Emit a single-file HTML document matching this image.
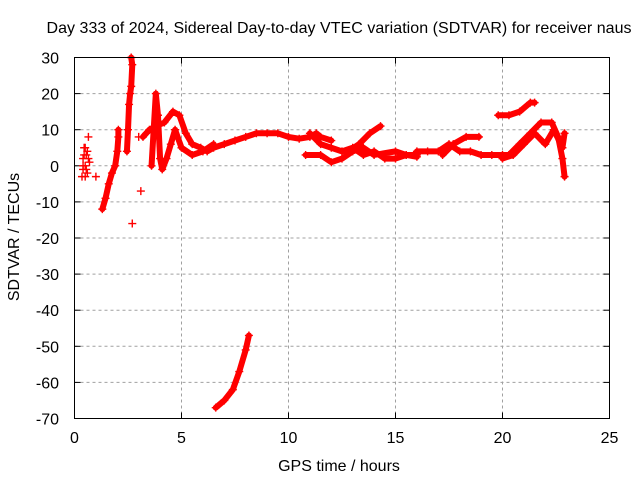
<!DOCTYPE html>
<html><head><meta charset="utf-8"><style>
body{margin:0;background:#fff}
svg{display:block;font-family:"Liberation Sans",sans-serif;font-size:16px}
</style></head><body>
<svg id="c" width="640" height="480">
<text x="339" y="33" text-anchor="middle" textLength="585">Day 333 of 2024, Sidereal Day-to-day VTEC variation (SDTVAR) for receiver naus</text>
<text x="339" y="471" text-anchor="middle">GPS time / hours</text>
<text transform="translate(19,237) rotate(-90)" text-anchor="middle">SDTVAR / TECUs</text>
<g id="grid"></g>
<g id="marks"></g>
<rect x="74.5" y="57.5" width="535" height="361" fill="none" stroke="#000"/>
</svg>
<script>
const xTicks=[0,5,10,15,20,25];
const yTicks=[30,20,10,0,-10,-20,-30,-40,-50,-60,-70];
const trackA=[[0.35,-3],[0.4,2],[0.45,5],[0.5,0],[0.55,3],[0.6,-2],[0.65,8],[0.7,1],[0.5,-3],[0.4,-1],[0.45,3],[0.6,4],[0.55,-1],[0.4,0],[0.5,5],[0.65,2],[1.0,-3]];
const trackB=[[1.3,-12],[1.45,-9],[1.6,-5],[1.75,-2],[1.9,0],[2.0,4],[2.05,8],[2.05,10]];
const trackC=[[2.45,4],[2.5,10],[2.55,17],[2.6,20],[2.65,22],[2.7,28],[2.65,30]];
const outliers=[[2.7,-16],[3.1,-7],[3.0,8]];
const trackD=[[3.2,8],[3.5,10],[3.8,11],[4.2,12],[4.6,15],[4.9,14],[5.2,9],[5.5,6],[5.9,5],[6.2,4],[6.5,5],[7,6],[7.5,7],[8,8],[8.5,9],[9,9],[9.5,9],[10,8],[10.5,7.5],[11,8],[11.3,9],[11.5,8],[12,7]];
const trackD2=[[3.6,0],[3.7,10],[3.8,20],[3.9,14],[4.0,2],[4.1,-1],[4.3,2],[4.5,6],[4.7,10],[5.0,5],[5.5,3],[6,4],[6.5,6]];
const trackE=[[11,9],[11.5,6],[12,5],[12.5,4],[13,5],[13.5,3],[14,4],[14.5,2],[15,2],[15.5,3],[16,2.5]];
const trackF=[[10.8,3],[11.5,3],[12,1],[12.5,2],[13,4],[13.5,5],[14,3],[15,4],[15.5,3],[16,3]];
const trackG=[[12.8,4],[13.3,6],[13.8,9],[14.3,11]];
const trackH=[[16,4],[16.5,4],[17,4],[17.5,6],[18,4],[18.5,4],[19,3],[19.5,3],[20,3],[20.3,3],[20.8,6],[21.3,9],[21.8,12],[22.3,12],[22.6,8],[22.8,2],[22.9,-3]];
const trackI=[[17.2,3],[17.7,6],[18.3,8],[18.9,8]];
const trackJ=[[19.8,14],[20.3,14],[20.8,15],[21.3,17.5],[21.5,17.5]];
const trackK=[[20,2],[20.5,3],[21,6],[21.5,9],[22,6],[22.4,10],[22.8,5],[22.9,9]];
const trackL=[[6.6,-67],[7,-65],[7.4,-62],[7.7,-57],[8.0,-51],[8.15,-47]];
const denseTracks=[trackB,trackC,trackD,trackD2,trackE,trackF,trackG,trackH,trackI,trackJ,trackK,trackL];
const pointTracks=[trackA,outliers];

const X0=74.5,X1=609.5,Y0=418.5,Y1=57.5;
const sx=v=>X0+(v-0)/(25-0)*(X1-X0);
const sy=v=>Y0-(v+70)/100*(Y0-Y1);
const NS="http://www.w3.org/2000/svg";
const svg=document.getElementById('c'),grid=document.getElementById('grid'),marks=document.getElementById('marks');
function mk(t,a,p){const e=document.createElementNS(NS,t);for(const k in a)e.setAttribute(k,a[k]);p.appendChild(e);return e;}
xTicks.forEach(t=>{
  const x=sx(t);
  if(t>0&&t<25){const l=mk('line',{x1:x,x2:x,y1:Y1,y2:Y0,stroke:'#a0a0a0','stroke-dasharray':'3,3'},grid);
  
  }
  mk('line',{x1:x,x2:x,y1:Y0,y2:Y0-6,stroke:'#000'},grid);
  mk('line',{x1:x,x2:x,y1:Y1,y2:Y1+6,stroke:'#000'},grid);
  const tx=mk('text',{x:x,y:443,'text-anchor':'middle'},svg);tx.textContent=t;
  
  
});
yTicks.forEach(t=>{
  const y=sy(t);
  if(t>-70&&t<30){const l=mk('line',{x1:X0,x2:X1,y1:y,y2:y,stroke:'#a0a0a0','stroke-dasharray':'3,3'},grid);
  
  }
  mk('line',{x1:X0,x2:X0+6,y1:y,y2:y,stroke:'#000'},grid);
  mk('line',{x1:X1,x2:X1-6,y1:y,y2:y,stroke:'#000'},grid);
  const tx=mk('text',{x:59,y:y+6,'text-anchor':'end'},svg);tx.textContent=t;
  
  
});
function plus(d){
  const x=sx(d[0]),y=sy(d[1]);
  const p=mk('path',{d:`M${x-4},${y}h8M${x},${y-4}v8`,stroke:'#f00','stroke-width':1.4,fill:'none'},marks);
  
  
}
denseTracks.forEach(tr=>{
  const pl=mk('polyline',{points:tr.map(d=>sx(d[0])+','+sy(d[1])).join(' '),stroke:'#f00','stroke-width':6,fill:'none','stroke-linejoin':'round','stroke-linecap':'round'},marks);
  
  
  tr.forEach(plus);
});
pointTracks.forEach(tr=>tr.forEach(plus));
</script>
</body></html>
